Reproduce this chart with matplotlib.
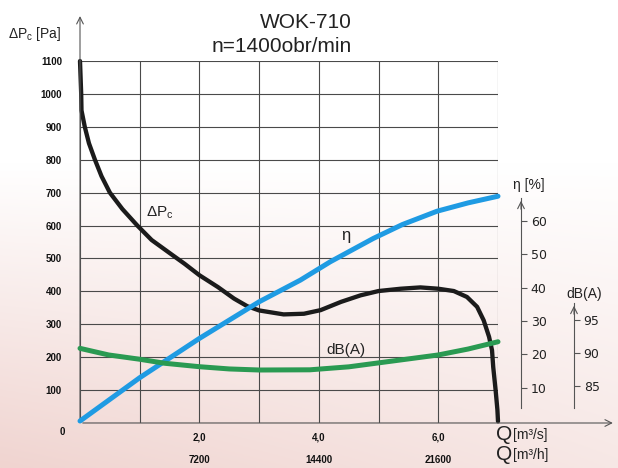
import numpy as np
import matplotlib.pyplot as plt
from matplotlib.transforms import blended_transform_factory

plt.rcParams['font.family'] = ['Liberation Sans', 'DejaVu Sans']
plt.rcParams['mathtext.fontset'] = 'custom'
plt.rcParams['mathtext.rm'] = 'Liberation Sans'

# --- data ----------------------------------------------------------------
# static pressure curve, Q [m3/s] vs dPc [Pa]
q_dp = [0, 0.02, 0.025, 0.08, 0.15, 0.25, 0.36, 0.5, 0.71, 0.96, 1.2, 1.55,
        1.75, 2.0, 2.31, 2.58, 2.8, 3.0, 3.41, 3.75, 4.03, 4.37, 4.7, 5.0,
        5.37, 5.7, 6.0, 6.26, 6.48, 6.65, 6.76, 6.85, 6.9, 6.92, 6.96, 6.99,
        7.0]
dp_pa = [1100, 1000, 950, 900, 850, 800, 750, 700, 650, 600, 556, 510,
         484, 449, 413, 378, 355, 342, 330, 332, 343, 368, 388, 401,
         408, 412, 408, 401, 383, 353, 312, 262, 221, 170, 100, 40,
         5]

# efficiency [%]
q_eta = [0, 1.0, 2.0, 3.0, 3.69, 4.19, 4.91, 5.4, 5.98, 6.5, 7.0]
eta_pct = [0, 13.0, 24.8, 35.8, 42.3, 47.8, 54.8, 59.0, 63.0, 65.5, 67.5]

# noise level [dB(A)]
q_db = [0, 0.48, 1.0, 1.42, 2.0, 2.5, 3.0, 3.85, 4.5, 5.0, 5.5, 6.0, 6.5, 7.0]
db_a = [90.7, 89.7, 89.05, 88.44, 87.92, 87.58, 87.42, 87.45, 87.9, 88.5,
        89.1, 89.7, 90.6, 91.7]

q_grid = np.arange(0, 8)
pa_ticks = np.arange(0, 1200, 100)
q_labels = {2: '2,0', 4: '4,0', 6: '6,0'}
qh_labels = {2: '7200', 4: '14400', 6: '21600'}
eta_ticks = [10, 20, 30, 40, 50, 60]
db_ticks = [85, 90, 95]

W, H = 618, 468


def fig_px(x, y):
    """image pixel (top-left origin) -> figure pixels"""
    return (x, H - y)


fig = plt.figure(figsize=(W / 100, H / 100), dpi=100)

# scanned-paper background: white at top, pinkish toward lower left
bg = fig.add_axes([0, 0, 1, 1], zorder=-10)
yy, xx = np.mgrid[0:1:200j, 0:1:200j]
t = np.clip((yy - 0.35) / 0.65, 0, 1) * (0.55 + 0.45 * (1 - xx))
pink = np.array([240, 212, 208]) / 255
img = (1 - t[..., None]) * np.ones(3) + t[..., None] * pink
bg.imshow(img, extent=[0, 1, 0, 1], aspect='auto', origin='upper')
bg.axis('off')

ax = fig.add_axes([80 / W, 1 - 423 / H, 418 / W, 362 / H])
ax.patch.set_alpha(0)
ax.set_xlim(0, 7)
ax.set_ylim(0, 1100)
ax.set_xticks(q_grid)
ax.set_yticks(pa_ticks)
ax.grid(True, color='#4a4a4a', lw=0.8)
for s in ax.spines.values():
    s.set_visible(False)
ax.tick_params(length=0, labelsize=7, labelcolor='#111')
ax.tick_params(axis='y', pad=13)
ax.tick_params(axis='x', pad=7)
ax.set_xticklabels([q_labels.get(q, '') for q in q_grid])
ax.set_yticklabels(['' if v == 0 else str(v) for v in pa_ticks])
for lab in ax.get_xticklabels() + ax.get_yticklabels():
    lab.set_fontweight('bold')
ax.text(-0.25, -12, '0', fontsize=7, fontweight='bold', color='#111',
        ha='right', va='top')
tr = blended_transform_factory(ax.transData, ax.transAxes)
for q, lab in qh_labels.items():
    ax.text(q, -0.103, lab, transform=tr, fontsize=7, fontweight='bold',
            color='#111', ha='center', va='center')

# curves
ax.plot(q_dp, dp_pa, color='#1b1b1b', lw=3.1, solid_capstyle='round',
        solid_joinstyle='round', clip_on=False, zorder=3)

ax_eta = ax.twinx()
ax_eta.set_ylim(-0.6, 108.1)
ax_eta.plot(q_eta, eta_pct, color='#1f9be3', lw=3.6, solid_capstyle='round',
            solid_joinstyle='round', clip_on=False, zorder=4)

ax_db = ax.twinx()
ax_db.set_ylim(79.39, 134.24)
ax_db.plot(q_db, db_a, color='#2a9a52', lw=3.6, solid_capstyle='round',
           solid_joinstyle='round', clip_on=False, zorder=5)

for a, off, ticks, lo, hi in [(ax_eta, 23, eta_ticks, 3.9, 67),
                             (ax_db, 76, db_ticks, 81.7, 97.6)]:
    a.patch.set_alpha(0)
    for name in ('left', 'top', 'bottom'):
        a.spines[name].set_visible(False)
    a.spines['right'].set_position(('outward', off * 0.72))
    a.spines['right'].set_bounds(lo, hi)
    a.spines['right'].set_color('#555')
    a.spines['right'].set_linewidth(0.8)
    a.set_yticks(ticks)
    a.tick_params(axis='y', length=4, width=0.8, color='#555', pad=3,
                  labelsize=9, labelcolor='#222')
    for lab in a.get_yticklabels():
        lab.set_fontfamily('DejaVu Sans')

# axis arrows
arrow = dict(arrowstyle='->', lw=0.8, color='#555', mutation_scale=12)
ax.annotate('', xy=(0, 1245), xytext=(0, 0), arrowprops=arrow,
            annotation_clip=False)
ax.annotate('', xy=(8.97, 0), xytext=(0, 0), arrowprops=arrow,
            annotation_clip=False)
for x, ytop in [(521, 198), (574, 303)]:
    ax.annotate('', xy=fig_px(x, ytop), xytext=fig_px(x, ytop + 14),
                xycoords='figure pixels', textcoords='figure pixels',
                arrowprops=arrow)

# texts
fig.text(352 / W, 1 - 23 / H, 'WOK-710', fontsize=15, ha='right',
         va='center', color='#222')
fig.text(352 / W, 1 - 46 / H, 'n=1400obr/min', fontsize=15, ha='right',
         va='center', color='#222')
fig.text(8 / W, 1 - 34 / H, r'ΔP$_\mathrm{c}$ [Pa]', fontsize=10,
         ha='left', va='center', color='#222')
fig.text(513 / W, 1 - 185 / H, 'η [%]', fontsize=10, ha='left',
         va='center', color='#222')
fig.text(566 / W, 1 - 294 / H, 'dB(A)', fontsize=10, ha='left',
         va='center', color='#222')
ax.text(1.1, 640, r'ΔP$_\mathrm{c}$', fontsize=11, ha='left', va='center',
        color='#222')
ax.text(4.45, 570, 'η', fontsize=12, ha='center', va='center', color='#222')
ax.text(4.45, 222, 'dB(A)', fontsize=11, ha='center', va='center',
        color='#222')
for ypx, unit in [(435, '[m³/s]'), (455, '[m³/h]')]:
    fig.text(496 / W, 1 - ypx / H, 'Q', fontsize=15, ha='left', va='center',
             color='#222')
    fig.text(513 / W, 1 - ypx / H, unit, fontsize=10, ha='left',
             va='center', color='#222')

fig.savefig('out.png', dpi=100)
